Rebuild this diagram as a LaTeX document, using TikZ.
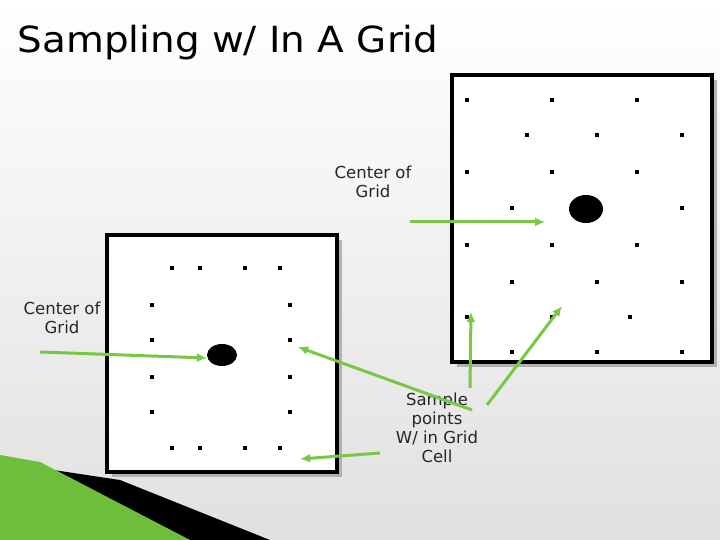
\documentclass[tikz,border=0pt]{standalone}
\usepackage{fontspec}
\setmainfont{DejaVu Sans}
\usetikzlibrary{arrows.meta,shapes.geometric}
\definecolor{garrc}{RGB}{120,200,70}
\definecolor{gsw}{RGB}{110,190,60}
\begin{document}
\begin{tikzpicture}[x=1pt,y=-1pt,
 box/.style={draw=black,line width=3.5pt,fill=white},
 pt/.style={fill=black,inner sep=0pt,minimum size=3.5pt,rectangle},
 blob/.style={fill=black,ellipse},
 lab/.style={align=center,font=\fontsize{16.5}{19}\selectfont,text=black!85},
 garr/.style={draw=garrc,line width=3pt,-{Latex[length=10pt,width=9pt]}}]
\useasboundingbox (0,0) rectangle (720,540);
\shade[top color=white,bottom color=black!12] (0,0) rectangle (720,540);
\fill[black] (0,462) -- (120,480) -- (270,540) -- (180,540) -- cycle;
\fill[gsw] (0,455) -- (40,462) -- (190,540) -- (0,540) -- cycle;
\node[anchor=west,font=\fontsize{36}{40}\selectfont,xscale=1.08] (t) at (14,43) {Sampling w/ In A Grid};
\fill[black!30] (457,80) rectangle (717,367);
\draw[box] (452,75) rectangle (712,362);
\fill[black!30] (112,240) rectangle (342,477);
\draw[box] (107,235) rectangle (337,472);
\foreach \x/\y [count=\i] in {467/100,552/100,637/100,527/135,597/135,682/135,467/172,552/172,637/172,512/208,682/208,467/245,552/245,637/245,512/282,597/282,682/282,467/317,552/317,630/317,512/352,597/352,682/352}
  \node[pt] (r\i) at (\x,\y) {};
\foreach \x/\y [count=\i] in {172/268,200/268,245/268,280/268,152/305,290/305,152/340,290/340,152/377,290/377,152/412,290/412,172/448,200/448,245/448,280/448}
  \node[pt] (l\i) at (\x,\y) {};
\node[blob,minimum width=34pt,minimum height=28pt] (cr) at (586,209) {};
\node[blob,minimum width=30pt,minimum height=22pt] (cl) at (222,355) {};
\node[lab] (c1) at (373,182) {Center of\\Grid};
\node[lab] (c2) at (62,318) {Center of\\Grid};
\node[lab] (sp) at (437,428) {Sample\\points\\W/ in Grid\\Cell};
\coordinate (a1) at (410,222); \coordinate (b1) at (545,222);
\coordinate (a2) at (40,352); \coordinate (b2) at (207,358);
\draw[garr] (a1) -- (b1);
\draw[garr] (a2) -- (b2);
\coordinate (s1) at (470,388); \coordinate (s2) at (487,405);
\coordinate (s3) at (472,410); \coordinate (s4) at (380,453);
\draw[garr] (s1) -- (471,312);
\draw[garr] (s2) -- (562,306);
\draw[garr] (s3) -- (298,347);
\draw[garr] (s4) -- (300,459);
\end{tikzpicture}
\end{document}
